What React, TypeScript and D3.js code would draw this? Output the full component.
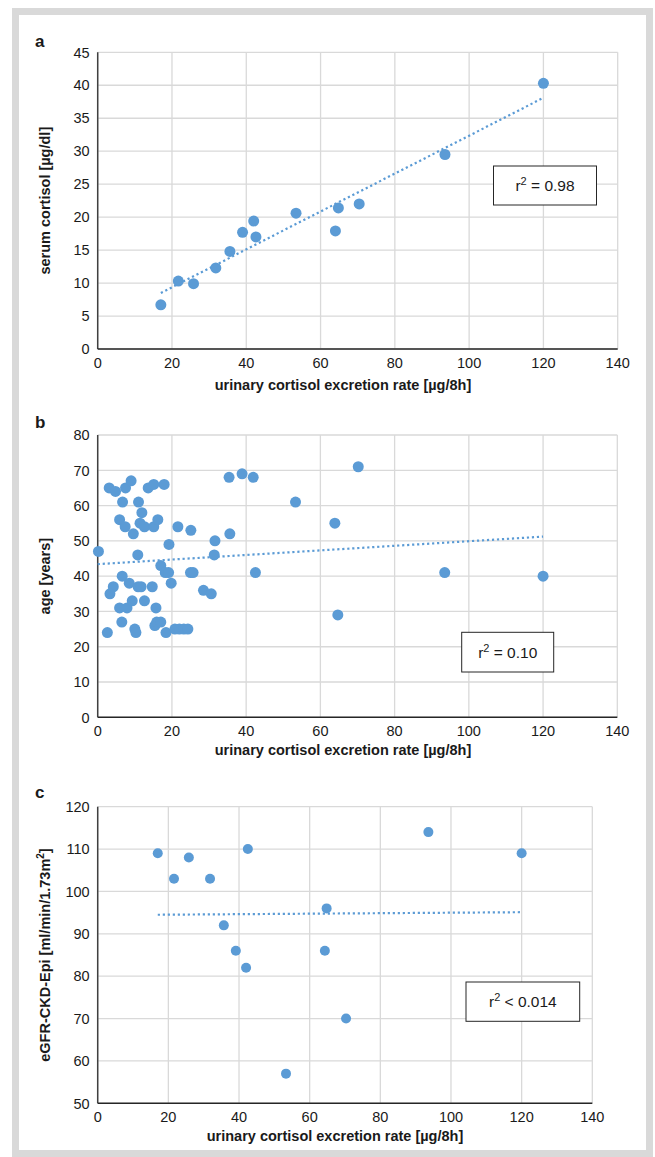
import React from 'react'
import * as d3 from 'd3'

// x ticks shared by all three panels (urinary cortisol excretion rate)
const xTicks = [0, 20, 40, 60, 80, 100, 120, 140]

// panel a: serum cortisol
const excretionA = [17, 21.7, 25.8, 31.8, 35.6, 39, 42, 42.6, 53.4, 64.8, 64, 70.4, 93.5, 120]
const serumCortisol = [6.7, 10.3, 9.9, 12.3, 14.8, 17.7, 19.4, 17, 20.6, 21.4, 17.9, 22, 29.5, 40.3]
const trendA = [[17, 8.5], [120, 38.1]]
const yTicksA = [0, 5, 10, 15, 20, 25, 30, 35, 40, 45]

// panel b: age
const excretionB = [
  0.2, 3.1, 4.8, 7.5, 9, 6.7, 11, 11.9, 13.6, 15.1, 17.9, 5.9, 7.4, 9.6, 11.4, 12.6, 15.1, 16.2,
  10.8, 19.2, 21.6, 25.1, 6.6, 4.2, 3.3, 8.5, 10.9, 11.7, 14.7, 17, 18.2, 19.1, 19.8, 25, 25.7,
  5.9, 7.9, 9.3, 12.6, 15.7, 6.5, 10, 10.3, 2.6, 15.4, 15.9, 17, 18.4, 20.8, 22, 23.2, 24.3,
  28.5, 30.6, 31.6, 31.4, 35.4, 35.6, 38.9, 41.9, 42.5, 53.3, 63.9, 64.7, 70.2, 93.5, 120,
]
const age = [
  47, 65, 64, 65, 67, 61, 61, 58, 65, 66, 66, 56, 54, 52, 55, 54, 54, 56,
  46, 49, 54, 53, 40, 37, 35, 38, 37, 37, 37, 43, 41, 41, 38, 41, 41,
  31, 31, 33, 33, 31, 27, 25, 24, 24, 26, 27, 27, 24, 25, 25, 25, 25,
  36, 35, 50, 46, 68, 52, 69, 68, 41, 61, 55, 29, 71, 41, 40,
]
const trendB = [[0, 43.4], [120, 51.2]]
const yTicksB = [0, 10, 20, 30, 40, 50, 60, 70, 80]

// panel c: eGFR
const excretionC = [17, 21.6, 25.8, 31.8, 35.7, 39.1, 42.5, 42, 64.3, 64.8, 70.3, 53.3, 93.6, 120]
const egfr = [109, 103, 108, 103, 92, 86, 110, 82, 86, 96, 70, 57, 114, 109]
const trendC = [[17, 94.5], [120, 95.1]]
const yTicksC = [50, 60, 70, 80, 90, 100, 110, 120]

const BLUE = '#5b9bd5'
const GRID = '#d9d9d9'
const TEXT = '#1a1a1a'
const TICK_FONT = "'Liberation Sans', Arial, sans-serif"
const TITLE_FONT = "'Liberation Sans Narrow', 'Liberation Sans', Arial, sans-serif"

type PanelProps = {
  label: string
  labelPos: [number, number]
  left: number
  right: number
  top: number
  bottom: number
  yDomain: [number, number]
  yTicks: number[]
  xs: number[]
  ys: number[]
  trend: number[][]
  radius: number
  yTitle: React.ReactNode
  xTitleX: number
  xTitleY: number
  box: [number, number, number, number]
  boxText: React.ReactNode
}

function Panel(p: PanelProps) {
  const x = d3.scaleLinear().domain([0, 140]).range([p.left, p.right])
  const y = d3.scaleLinear().domain(p.yDomain).range([p.bottom, p.top])
  const line = d3.line<number[]>().x(d => x(d[0])).y(d => y(d[1]))
  const [bx, by, bw, bh] = p.box

  return (
    <g>
      <text x={p.labelPos[0]} y={p.labelPos[1]} fontFamily={TICK_FONT} fontWeight="bold" fontSize={17} fill={TEXT}>{p.label}</text>

      {/* grid */}
      {p.yTicks.map(t => (
        <line key={'gy' + t} x1={p.left} x2={p.right} y1={y(t)} y2={y(t)} stroke={GRID} strokeWidth={1.3} />
      ))}
      {xTicks.map(t => (
        <line key={'gx' + t} x1={x(t)} x2={x(t)} y1={p.top} y2={p.bottom} stroke={GRID} strokeWidth={1.3} />
      ))}

      {/* axes */}
      <line x1={p.left} x2={p.left} y1={p.top} y2={p.bottom} stroke="#404040" strokeWidth={1.5} />
      <line x1={p.left} x2={p.right} y1={p.bottom} y2={p.bottom} stroke="#262626" strokeWidth={1.5} />

      {p.yTicks.map(t => (
        <text key={'ty' + t} x={p.left - 8} y={y(t)} dy="0.36em" textAnchor="end" fontFamily={TICK_FONT} fontSize={14.5} fill={TEXT}>{t}</text>
      ))}
      {xTicks.map(t => (
        <text key={'tx' + t} x={x(t)} y={p.bottom + 19} textAnchor="middle" fontFamily={TICK_FONT} fontSize={14.5} fill={TEXT}>{t}</text>
      ))}

      {/* trendline */}
      <path d={line(p.trend) || ''} fill="none" stroke={BLUE} strokeWidth={2.2} strokeDasharray="2.2 2.8" />

      {/* points */}
      {p.xs.map((v, i) => (
        <circle key={i} cx={x(v)} cy={y(p.ys[i])} r={p.radius} fill={BLUE} />
      ))}

      {/* r2 box */}
      <rect x={bx} y={by} width={bw} height={bh} fill="#fff" stroke="#262626" strokeWidth={1} />
      <text x={bx + bw / 2} y={by + bh / 2} dy="0.36em" textAnchor="middle" fontFamily={TICK_FONT} fontSize={15.5} fill={TEXT}>{p.boxText}</text>

      {/* titles */}
      <text x={p.xTitleX} y={p.xTitleY} textAnchor="middle" fontFamily={TITLE_FONT} fontWeight="bold" fontSize={14.5} fill={TEXT}>
        urinary cortisol excretion rate [µg/8h]
      </text>
      <text transform={`translate(50,${(p.top + p.bottom) / 2}) rotate(-90)`} textAnchor="middle" fontFamily={TITLE_FONT} fontWeight="bold" fontSize={14.5} fill={TEXT}>
        {p.yTitle}
      </text>
    </g>
  )
}

function R2({ op, val }: { op: string; val: string }) {
  return (
    <>
      r<tspan dy="-6" fontSize={11}>2</tspan><tspan dy="6">{` ${op} ${val}`}</tspan>
    </>
  )
}

export default function App() {
  const W = 655
  const H = 1157
  return (
    <svg width={W} height={H} style={{ position: 'absolute', left: 0, top: 0, display: 'block', background: '#fff' }}>
      <rect x={15.5} y={11.5} width={634} height={1142} fill="#fff" stroke={GRID} strokeWidth={7} />

      <Panel
        label="a" labelPos={[35, 47]}
        left={97.7} right={617.7} top={52.3} bottom={349}
        yDomain={[0, 45]} yTicks={yTicksA}
        xs={excretionA} ys={serumCortisol} trend={trendA} radius={5.5}
        yTitle="serum cortisol [µg/dl]"
        xTitleX={343} xTitleY={390}
        box={[493.5, 166, 103, 39]}
        boxText={<R2 op="=" val="0.98" />}
      />
      <Panel
        label="b" labelPos={[35, 428]}
        left={97.7} right={617.3} top={435} bottom={717.3}
        yDomain={[0, 80]} yTicks={yTicksB}
        xs={excretionB} ys={age} trend={trendB} radius={5.5}
        yTitle="age [years]"
        xTitleX={343} xTitleY={755}
        box={[461.7, 632.3, 92, 39.7]}
        boxText={<R2 op="=" val="0.10" />}
      />
      <Panel
        label="c" labelPos={[35, 798]}
        left={97.7} right={592.3} top={806.7} bottom={1103.3}
        yDomain={[50, 120]} yTicks={yTicksC}
        xs={excretionC} ys={egfr} trend={trendC} radius={5}
        yTitle={<>eGFR-CKD-Epi [ml/min/1.73m<tspan dy="-6" fontSize={10}>2</tspan><tspan dy="6">]</tspan></>}
        xTitleX={335} xTitleY={1141}
        box={[466, 982, 113.7, 39.3]}
        boxText={<R2 op="<" val="0.014" />}
      />
    </svg>
  )
}
